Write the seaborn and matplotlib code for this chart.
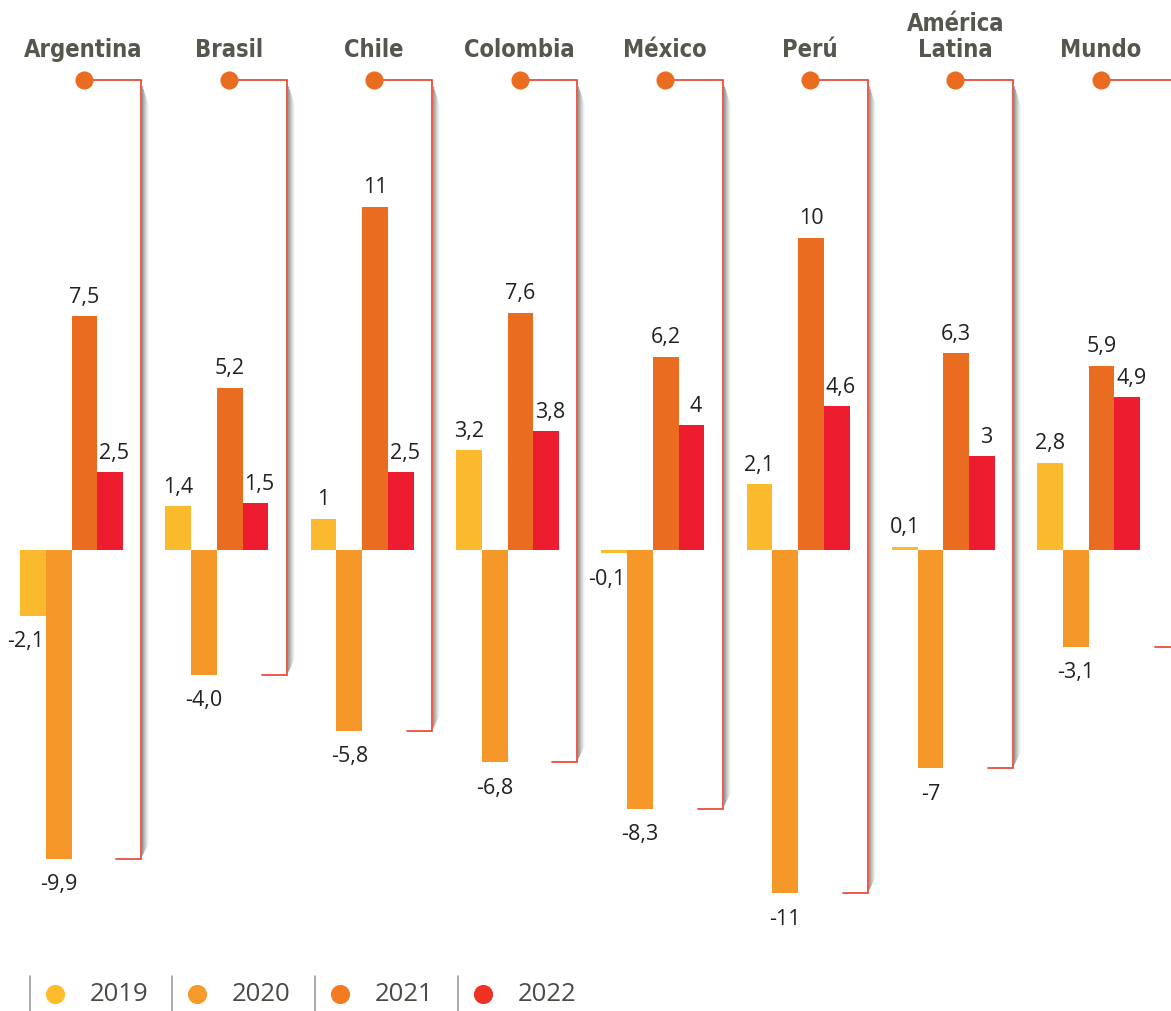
import numpy as np
import pandas as pd
import matplotlib
matplotlib.use('Agg')
import matplotlib.pyplot as plt
import seaborn as sns

# Data (GDP growth, %)
regions = ['Argentina', 'Brasil', 'Chile', 'Colombia', 'México', 'Perú', 'América\nLatina', 'Mundo']
years = ['2019', '2020', '2021', '2022']
v2019 = [-2.1, 1.4, 1.0, 3.2, -0.1, 2.1, 0.1, 2.8]
v2020 = [-9.9, -4.0, -5.8, -6.8, -8.3, -11.0, -7.0, -3.1]
v2021 = [7.5, 5.2, 11.0, 7.6, 6.2, 10.0, 6.3, 5.9]
v2022 = [2.5, 1.5, 2.5, 3.8, 4.0, 4.6, 3.0, 4.9]
lab2019 = ['-2,1', '1,4', '1', '3,2', '-0,1', '2,1', '0,1', '2,8']
lab2020 = ['-9,9', '-4,0', '-5,8', '-6,8', '-8,3', '-11', '-7', '-3,1']
lab2021 = ['7,5', '5,2', '11', '7,6', '6,2', '10', '6,3', '5,9']
lab2022 = ['2,5', '1,5', '2,5', '3,8', '4', '4,6', '3', '4,9']

bar_colors = ['#FBBA2D', '#F59829', '#E96C20', '#ED1C2E']
legend_colors = ['#FDBC2C', '#F69A2A', '#F47B22', '#EE3124']
red_line = '#E8402F'
dot_color = '#E96C20'
title_color = '#56564E'
text_color = '#231F20'

df = pd.DataFrame({
    'region': regions * 4,
    'year': np.repeat(years, len(regions)),
    'value': v2019 + v2020 + v2021 + v2022,
})
labels = [lab2019, lab2020, lab2021, lab2022]

sns.set_style('white')
plt.rcParams['font.family'] = ['Open Sans', 'DejaVu Sans']

W, H = 1171, 1012
fig = plt.figure(figsize=(W / 100, H / 100), dpi=100)
ax = fig.add_axes([0, 0, 1, 1])

sns.barplot(data=df, x='region', y='value', hue='year', order=regions, hue_order=years,
            palette=bar_colors, width=0.71, saturation=1, legend=False, ax=ax, linewidth=0)

# pixel scale
px_x = 145.3   # px per category
px_y = 31.2    # px per unit
ax.set_xlim(-71.6 / px_x, (W - 71.6) / px_x)
ax.set_ylim(-(H - 551) / px_y, 551 / px_y)
ax.axis('off')

# value labels
for j, (cont, labs) in enumerate(zip(ax.containers, labels)):
    for i, (bar, lab) in enumerate(zip(cont.patches, labs)):
        v = df[(df.year == years[j])].value.iloc[i]
        x = bar.get_x() + bar.get_width() / 2
        if v >= 0:
            y = v + 20 / px_y
        else:
            y = v - 25 / px_y
            if j == 0:
                x -= 7 / px_x
        if j == 3:
            x += 4 / px_x
        ax.text(x, y, lab, ha='center', va='center', fontsize=15.5, color=text_color)

# titles, dots and brackets
dot_y = (551 - 81) / px_y
title_y = (551 - 57) / px_y
for i, name in enumerate(regions):
    grp = [v2019[i], v2020[i], v2021[i], v2022[i]]
    ymin = min(grp)
    dx = i + 12 / px_x
    bx = i + (0.48 if i < len(regions) - 1 else 0.63)
    lines = name.split('\n')
    for k, line in enumerate(reversed(lines)):
        ax.text(dx, title_y + k * 26 / px_y, line, ha='center', va='baseline',
                fontsize=17, fontweight='bold', fontstretch='condensed',
                family='DejaVu Sans', color=title_color)
    # shadow of the bracket
    for k in range(1, 8):
        a = 0.6 * (1 - k / 8) ** 1.5
        ax.plot([bx + k / px_x] * 2, [dot_y - (3 + 3 * k) / px_y, ymin + (2 + 2 * k) / px_y],
                color='#45453f', alpha=a, lw=0.9, solid_capstyle='butt', zorder=2)
    ax.plot([dx, bx, bx, bx - 25 / px_x], [dot_y, dot_y, ymin, ymin],
            color=red_line, lw=1.2, zorder=3, solid_joinstyle='miter')
    ax.scatter([dx], [dot_y], s=170, color=dot_color, zorder=4, linewidths=0)

# legend
sep_x = [30, 172, 315, 458]
for k, yr in enumerate(years):
    sx = sep_x[k] / W
    fig.add_artist(plt.Line2D([sx, sx], [1 - 977 / H, 0], color='#8E9696', lw=1.1))
    ax.scatter([(sep_x[k] + 25) / W], [1 - 995 / H], s=190, color=legend_colors[k],
               transform=fig.transFigure, clip_on=False, linewidths=0, zorder=5)
    fig.text((sep_x[k] + 60) / W, 1 - 995 / H, yr, ha='left', va='center',
             fontsize=18.5, color='#4B4B45')

fig.savefig('out.png', dpi=100)
